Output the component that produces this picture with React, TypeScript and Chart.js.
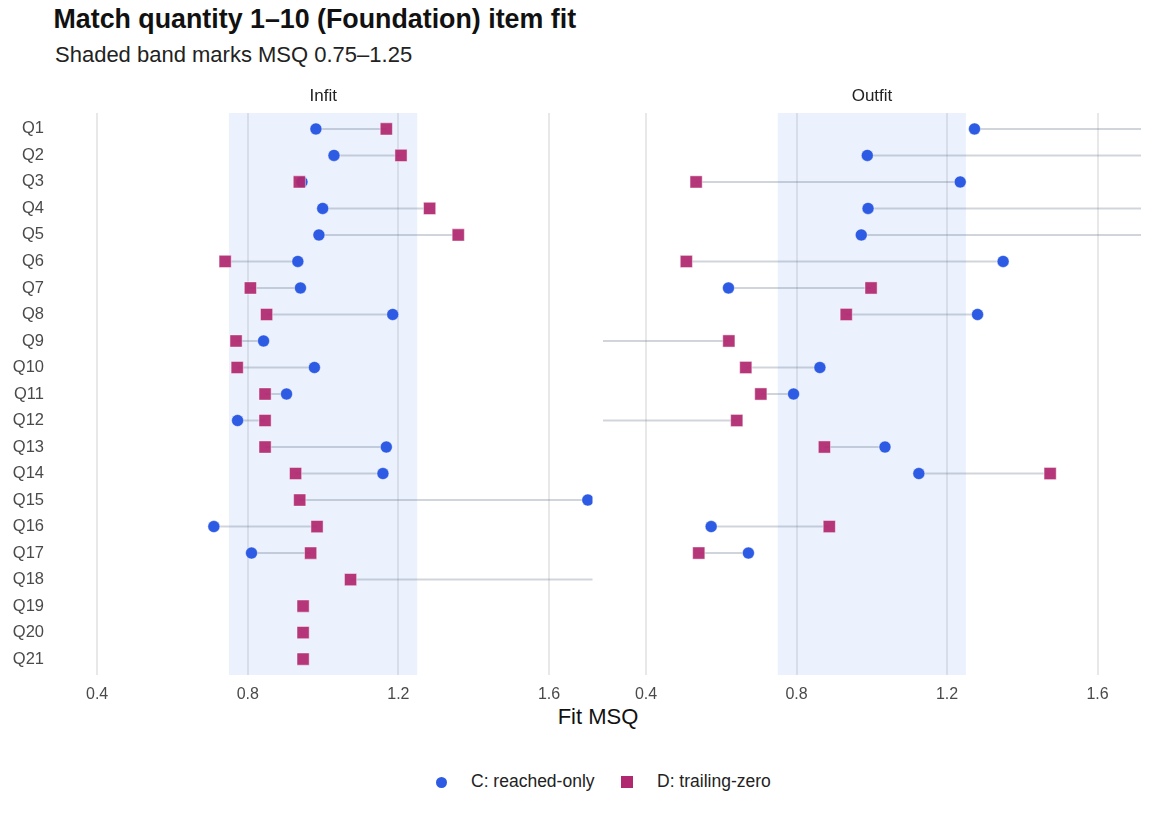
import React, { useEffect, useRef } from "react";
import { Chart, registerables } from "chart.js";

Chart.register(...registerables);

// ---- data ----
const categories = [
  "Q1", "Q2", "Q3", "Q4", "Q5", "Q6", "Q7", "Q8", "Q9", "Q10", "Q11",
  "Q12", "Q13", "Q14", "Q15", "Q16", "Q17", "Q18", "Q19", "Q20", "Q21",
];

// C: reached-only
const infitC: (number | null)[] = [
  0.981, 1.029, 0.944, 0.999, 0.989, 0.933, 0.94, 1.185, 0.842, 0.977, 0.903,
  0.773, 1.168, 1.159, 1.703, 0.71, 0.81, 1.9, null, null, null,
];
// D: trailing-zero
const infitD: (number | null)[] = [
  1.168, 1.207, 0.937, 1.283, 1.359, 0.74, 0.807, 0.85, 0.769, 0.772, 0.846,
  0.846, 0.846, 0.927, 0.938, 0.984, 0.967, 1.073, 0.947, 0.947, 0.947,
];
const outfitC: (number | null)[] = [
  1.273, 0.988, 1.235, 0.99, 0.972, 1.349, 0.619, 1.281, 0.2, 0.862, 0.792,
  0.268, 1.035, 1.125, null, 0.573, 0.672, null, null, null, null,
];
const outfitD: (number | null)[] = [
  1.8, 1.85, 0.533, 1.9, 1.95, 0.507, 0.998, 0.932, 0.62, 0.665, 0.705,
  0.641, 0.874, 1.474, null, 0.887, 0.54, null, null, null, null,
];

const xTicks = [0.4, 0.8, 1.2, 1.6];
const bandRange = [0.75, 1.25];
const xRange = [0.2855, 1.7155];

const FONT = "'Liberation Sans', Arial, Helvetica, sans-serif";
const BLUE = "#2d5be3";
const MAGENTA = "#b0286f";
const SEG = "rgba(100,116,139,0.3)";

const bandPlugin = {
  id: "band",
  beforeDatasetsDraw(chart: any) {
    const { ctx, chartArea, scales } = chart;
    const x0 = scales.x.getPixelForValue(bandRange[0]);
    const x1 = scales.x.getPixelForValue(bandRange[1]);
    ctx.save();
    ctx.fillStyle = "rgba(37,99,235,0.09)";
    ctx.fillRect(x0, chartArea.top, x1 - x0, chartArea.bottom - chartArea.top);
    ctx.restore();
  },
};

function makeConfig(
  cVals: (number | null)[],
  dVals: (number | null)[],
  showY: boolean,
  padLeft: number,
  padRight: number
): any {
  const seg: { x: number; y: number }[] = [];
  const cPts: { x: number; y: number }[] = [];
  const dPts: { x: number; y: number }[] = [];
  categories.forEach((_, i) => {
    const c = cVals[i];
    const d = dVals[i];
    if (c != null) cPts.push({ x: c, y: i + 1 });
    if (d != null) dPts.push({ x: d, y: i + 1 });
    if (c != null && d != null) {
      seg.push({ x: c, y: i + 1 }, { x: d, y: i + 1 }, { x: NaN, y: NaN });
    }
  });
  return {
    type: "scatter",
    data: {
      datasets: [
        {
          label: "segments",
          data: seg,
          showLine: true,
          spanGaps: false,
          borderColor: SEG,
          borderWidth: 2,
          pointRadius: 0,
          pointHoverRadius: 0,
          clip: 0,
          order: 3,
        },
        {
          label: "C: reached-only",
          data: cPts,
          pointStyle: "circle",
          pointRadius: 6,
          pointHoverRadius: 6,
          backgroundColor: BLUE,
          borderColor: "rgba(255,255,255,0.45)",
          borderWidth: 1,
          clip: 0,
          order: 2,
        },
        {
          label: "D: trailing-zero",
          data: dPts,
          pointStyle: "rect",
          pointRadius: 8.6,
          pointHoverRadius: 8.6,
          backgroundColor: "rgba(176,40,111,0.93)",
          borderColor: "rgba(255,255,255,0.45)",
          borderWidth: 1,
          clip: 0,
          order: 1,
        },
      ],
    },
    options: {
      animation: false,
      responsive: false,
      maintainAspectRatio: false,
      layout: {
        autoPadding: false,
        padding: { left: padLeft, right: padRight, top: 113, bottom: 0 },
      },
      plugins: { legend: { display: false }, tooltip: { enabled: false } },
      scales: {
        x: {
          type: "linear",
          min: xRange[0],
          max: xRange[1],
          afterBuildTicks: (s: any) => {
            s.ticks = xTicks.map((v) => ({ value: v }));
          },
          afterFit: (s: any) => {
            s.height = 25;
          },
          grid: { color: "rgba(0,0,0,0.09)", lineWidth: 2, drawTicks: false },
          border: { display: false },
          ticks: {
            font: { family: FONT, size: 16 },
            color: "#4a4a4a",
            padding: 10,
            maxRotation: 0,
            callback: (v: any) => Number(v).toFixed(1),
          },
        },
        y: {
          type: "linear",
          reverse: true,
          min: 0.4,
          max: 21.6,
          display: showY,
          afterBuildTicks: (s: any) => {
            s.ticks = categories.map((_, i) => ({ value: i + 1 }));
          },
          afterFit: (s: any) => {
            s.width = showY ? 54 : 0;
          },
          grid: { display: false, drawTicks: false },
          border: { display: false },
          ticks: {
            font: { family: FONT, size: 16.5 },
            color: "#4a4a4a",
            padding: 10,
            autoSkip: false,
            callback: (v: any) => categories[Math.round(Number(v)) - 1] ?? "",
          },
        },
      },
    },
    plugins: [bandPlugin],
  };
}

function Panel(props: {
  cVals: (number | null)[];
  dVals: (number | null)[];
  showY: boolean;
  left: number;
  width: number;
  padLeft: number;
  padRight: number;
}) {
  const ref = useRef<HTMLCanvasElement>(null);
  useEffect(() => {
    if (!ref.current) return;
    const chart = new Chart(
      ref.current,
      makeConfig(props.cVals, props.dVals, props.showY, props.padLeft, props.padRight)
    );
    return () => chart.destroy();
  }, []);
  return (
    <canvas
      ref={ref}
      width={props.width}
      height={700}
      style={{ position: "absolute", left: props.left, top: 0, width: props.width, height: 700 }}
    />
  );
}

const txt = (size: number, extra: any = {}): any => ({
  position: "absolute",
  fontFamily: FONT,
  fontSize: size,
  lineHeight: `${size}px`,
  whiteSpace: "nowrap",
  margin: 0,
  ...extra,
});

export default function App() {
  return (
    <div
      style={{
        position: "absolute",
        left: 0,
        top: 0,
        width: 1152,
        height: 822,
        background: "#ffffff",
        overflow: "hidden",
      }}
    >
      <div style={txt(26.8, { left: 53.5, top: 5.5, fontWeight: "bold", color: "#111" })}>
        Match quantity 1–10 (Foundation) item fit
      </div>
      <div style={txt(22, { left: 55, top: 44, color: "#222" })}>
        Shaded band marks MSQ 0.75–1.25
      </div>

      <Panel cVals={infitC} dVals={infitD} showY={true} left={0} width={600} padLeft={0} padRight={7.5} />
      <Panel cVals={outfitC} dVals={outfitD} showY={false} left={600} width={552} padLeft={3} padRight={11} />

      <div style={txt(17, { left: 54, width: 538.5, top: 87, textAlign: "center", color: "#222" })}>Infit</div>
      <div style={txt(17, { left: 603, width: 538, top: 87, textAlign: "center", color: "#222" })}>Outfit</div>

      <div style={txt(22, { left: 398, width: 400, top: 705.5, textAlign: "center", color: "#111" })}>Fit MSQ</div>

      <div
        style={{
          position: "absolute",
          left: 436.2,
          top: 776.5,
          width: 11,
          height: 11,
          borderRadius: "50%",
          background: BLUE,
        }}
      />
      <div style={txt(17.5, { left: 471, top: 773.2, color: "#222" })}>C: reached-only</div>
      <div
        style={{
          position: "absolute",
          left: 621.3,
          top: 776,
          width: 12,
          height: 12,
          background: MAGENTA,
        }}
      />
      <div style={txt(17.5, { left: 657, top: 773.2, color: "#222" })}>D: trailing-zero</div>
    </div>
  );
}
